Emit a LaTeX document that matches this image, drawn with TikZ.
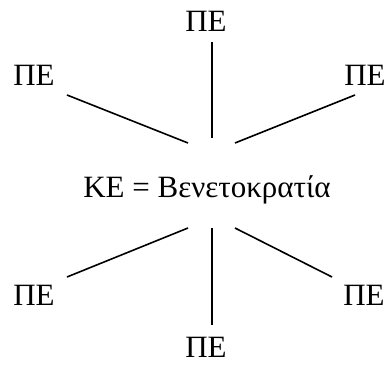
\documentclass[tikz,border=0pt]{standalone}
\usepackage{fontspec}
\setmainfont{Liberation Serif}
\begin{document}
\begin{tikzpicture}[x=1pt,y=-1pt,
  lbl/.style={font=\fontsize{31}{36}\selectfont,inner sep=0pt,anchor=base},
  conn/.style={line width=1.6pt}]
\useasboundingbox (0,0) rectangle (389,366);
\node[lbl] (ke) at (207,198) {ΚΕ = Βενετοκρατία};
\node[lbl] (pt) at (206,32) {ΠΕ};
\node[lbl] (ptl) at (34,86) {ΠΕ};
\node[lbl] (ptr) at (365,86) {ΠΕ};
\node[lbl] (pbl) at (34,306) {ΠΕ};
\node[lbl] (pbr) at (364,306) {ΠΕ};
\node[lbl] (pb) at (206,358) {ΠΕ};
\coordinate (a1) at (212,42);  \coordinate (b1) at (212,138);
\coordinate (a2) at (67,95);   \coordinate (b2) at (188,143);
\coordinate (a3) at (355,95);  \coordinate (b3) at (235,143);
\coordinate (a4) at (67,277);  \coordinate (b4) at (188,228);
\coordinate (a5) at (212,325); \coordinate (b5) at (212,228);
\coordinate (a6) at (332,277); \coordinate (b6) at (235,228);
\draw[conn] (a1) -- (b1);
\draw[conn] (a2) -- (b2);
\draw[conn] (a3) -- (b3);
\draw[conn] (a4) -- (b4);
\draw[conn] (a5) -- (b5);
\draw[conn] (a6) -- (b6);
\end{tikzpicture}
\end{document}
